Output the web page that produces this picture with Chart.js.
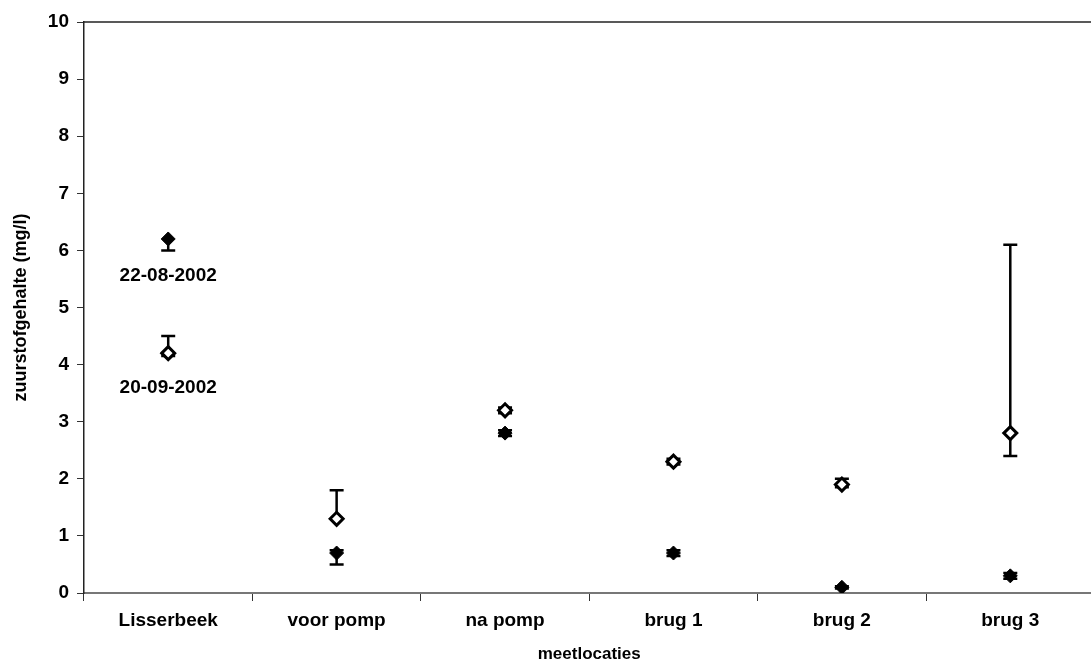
<!DOCTYPE html>
<html>
<head>
<meta charset="utf-8">
<script src="https://cdn.jsdelivr.net/npm/chart.js@4/dist/chart.umd.min.js"></script>
<style>
html,body{margin:0;padding:0;background:#fff;overflow:hidden}
#c{display:block}
</style>
</head>
<body>
<canvas id="c" width="1104" height="667"></canvas>
<script>
const locations = ['Lisserbeek','voor pomp','na pomp','brug 1','brug 2','brug 3'];
// 22-08-2002 (filled diamonds)
const aug = [6.2, 0.7, 2.8, 0.7, 0.1, 0.3];
const augLo = [6.0, 0.5, 2.75, 0.65, 0.08, 0.25];
const augHi = [6.2, 0.75, 2.85, 0.75, 0.12, 0.35];
// 20-09-2002 (open diamonds)
const sep = [4.2, 1.3, 3.2, 2.3, 1.9, 2.8];
const sepLo = [4.15, 1.3, 3.15, 2.25, 1.85, 2.4];
const sepHi = [4.5, 1.8, 3.25, 2.35, 2.0, 6.1];
// in-plot date labels (category, value)
const noteText = ['22-08-2002','20-09-2002'];
const noteCat = ['Lisserbeek','Lisserbeek'];
const noteVal = [5.55, 3.6];

const FONT = '"Liberation Sans", Arial, sans-serif';

const errorBars = {
  id:'errorBars',
  beforeDatasetsDraw(chart){
    const ctx=chart.ctx, x=chart.scales.x, y=chart.scales.y;
    ctx.save();
    ctx.strokeStyle='#000'; ctx.lineWidth=2.5;
    chart.data.datasets.forEach(ds=>{
      ds.data.forEach((v,i)=>{
        const px=x.getPixelForValue(i);
        const yl=y.getPixelForValue(ds.errLo[i]), yh=y.getPixelForValue(ds.errHi[i]);
        if(Math.abs(yl-yh)<1) return;
        ctx.beginPath();
        ctx.moveTo(px,yl); ctx.lineTo(px,yh);
        if(ds.errLo[i]<v){ ctx.moveTo(px-7,yl); ctx.lineTo(px+7,yl); }
        if(ds.errHi[i]>v){ ctx.moveTo(px-7,yh); ctx.lineTo(px+7,yh); }
        ctx.stroke();
      });
    });
    ctx.restore();
  }
};

const frame = {
  id:'frame',
  afterDraw(chart){
    const ctx=chart.ctx, x=chart.scales.x, y=chart.scales.y;
    ctx.save();
    ctx.strokeStyle='#222'; ctx.lineWidth=1.5;
    const t=y.getPixelForValue(10);
    ctx.beginPath(); ctx.moveTo(chart.chartArea.left,t); ctx.lineTo(chart.chartArea.right,t); ctx.stroke();
    ctx.fillStyle='#000'; ctx.font='bold 19px '+FONT; ctx.textAlign='center'; ctx.textBaseline='middle';
    noteText.forEach((s,i)=>{
      ctx.fillText(s, x.getPixelForValue(locations.indexOf(noteCat[i])), y.getPixelForValue(noteVal[i]));
    });
    ctx.restore();
  }
};

new Chart(document.getElementById('c'),{
  type:'line',
  data:{labels:locations,datasets:[
    {label:'22-08-2002',data:aug,errLo:augLo,errHi:augHi,showLine:false,
     pointStyle:'rectRot',pointRadius:7,pointBackgroundColor:'#000',pointBorderColor:'#000',pointBorderWidth:1},
    {label:'20-09-2002',data:sep,errLo:sepLo,errHi:sepHi,showLine:false,
     pointStyle:'rectRot',pointRadius:6.5,pointBackgroundColor:'#fff',pointBorderColor:'#000',pointBorderWidth:3}
  ]},
  options:{
    responsive:false,animation:false,
    layout:{padding:{top:22,right:0,bottom:0,left:0}},
    plugins:{legend:{display:false},tooltip:{enabled:false}},
    scales:{
      x:{
        offset:true,
        grid:{display:true,drawOnChartArea:false,offset:true,tickLength:8,color:'#333',lineWidth:1},
        border:{color:'#777',width:2},
        ticks:{color:'#000',font:{family:FONT,size:19,weight:'bold'},padding:8},
        title:{display:true,text:'meetlocaties',color:'#000',font:{family:FONT,size:17,weight:'bold'},padding:{top:0,bottom:2}},
        afterFit(s){ s.height=74; }
      },
      y:{
        min:0,max:10,
        ticks:{stepSize:1,color:'#000',font:{family:FONT,size:19,weight:'bold'},padding:8},
        grid:{display:true,drawOnChartArea:false,tickLength:7,color:'#333',lineWidth:1},
        border:{color:'#222',width:1.5},
        title:{display:true,text:'zuurstofgehalte (mg/l)',color:'#000',font:{family:FONT,size:18,weight:'bold'},padding:{top:10,bottom:0}},
        afterFit(s){ s.width=84; }
      }
    }
  },
  plugins:[errorBars,frame]
});
</script>
</body>
</html>
